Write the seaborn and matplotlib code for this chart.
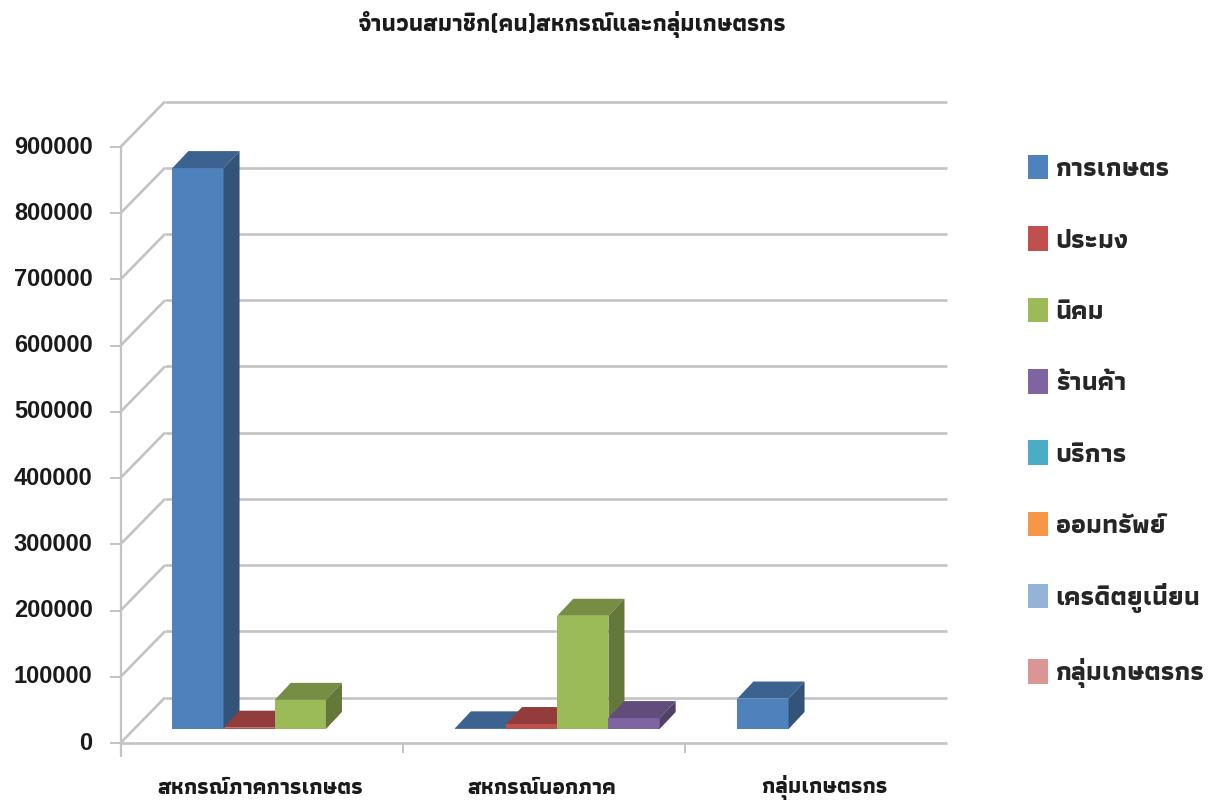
import numpy as np
import pandas as pd
import matplotlib
matplotlib.use("Agg")
import matplotlib.pyplot as plt
import seaborn as sns
from matplotlib import font_manager as fm
from matplotlib.patches import Polygon, Patch
from matplotlib.lines import Line2D
from matplotlib.transforms import IdentityTransform
from matplotlib.colors import to_rgb

# ---------------- data ----------------
title = "จำนวนสมาชิก(คน)สหกรณ์และกลุ่มเกษตรกร"
categories = ["สหกรณ์ภาคการเกษตร", "สหกรณ์นอกภาค", "กลุ่มเกษตรกร"]
series_names = ["การเกษตร", "ประมง", "นิคม", "ร้านค้า", "บริการ",
                "ออมทรัพย์", "เครดิตยูเนี่ยน", "กลุ่มเกษตรกร"]
s_kaset = [847000, 1000, 46000]
s_pramong = [2000, 7500, 0]
s_nikom = [44000, 171000, 0]
s_rankha = [0, 16500, 0]
s_borikan = [0, 0, 0]
s_omsap = [0, 0, 0]
s_credit = [0, 0, 0]
s_klum = [0, 0, 0]
series_values = [s_kaset, s_pramong, s_nikom, s_rankha,
                 s_borikan, s_omsap, s_credit, s_klum]
y_ticks = [0, 100000, 200000, 300000, 400000, 500000, 600000, 700000, 800000, 900000]
colors = ["#4F81BD", "#C0504D", "#9BBB59", "#8064A2",
          "#4BACC6", "#F79646", "#95B3D7", "#D99694"]

rows = []
for name, vals in zip(series_names, series_values):
    for cat, v in zip(categories, vals):
        rows.append({"category": cat, "series": name, "value": v})
df = pd.DataFrame(rows)
plotted = [n for n, v in zip(series_names, series_values) if any(x > 0 for x in v)]
df_plot = df[df["series"].isin(plotted)]
palette = dict(zip(series_names, colors))

# ---------------- fonts ----------------
sns.set_theme(style="white")

installed = {}
for fe in fm.fontManager.ttflist:
    installed.setdefault(fe.name, set()).add(fe.weight if isinstance(fe.weight, int) else 400)

thai_font = "DejaVu Sans"
for cand in ["Athiti", "Kanit", "Bai Jamjuree", "IBM Plex Sans Thai", "Anuphan"]:
    if cand in installed and max(installed[cand]) >= 600:
        thai_font = cand
        break
plt.rcParams["font.family"] = [thai_font, "DejaVu Sans"]
num_family = ["Liberation Sans", "DejaVu Sans"]

# ---------------- figure ----------------
W, H = 1215, 807
fig = plt.figure(figsize=(W / 100, H / 100), dpi=100)
fig.patch.set_facecolor("white")
ax = fig.add_axes([133.5 / W, (H - 729) / H, 847.5 / W, 596 / H])

sns.barplot(data=df_plot, x="category", y="value", hue="series",
            order=categories, hue_order=plotted, palette=palette,
            width=0.725, gap=0, dodge=True, saturation=1, legend=False,
            errorbar=None, linewidth=0, ax=ax)
ax.set_xlim(-0.5, 2.5)
ax.set_ylim(0, 900000)
ax.axis("off")

FRONT = (-13.0, -14.0)
BACK = (31.5, 31.5)
BAR_D = (16.0, 17.0)
RIGHT_X = 947.0
GRID_C = "#c3c3c3"
ID = IdentityTransform()


def P(x, v, off=(0.0, 0.0)):
    px, py = ax.transData.transform((x, v))
    return px + off[0], py + off[1]


def line(p0, p1, color=GRID_C, lw=1.9, z=1):
    ax.add_line(Line2D([p0[0], p1[0]], [p0[1], p1[1]], color=color, lw=lw,
                       transform=ID, clip_on=False, zorder=z,
                       solid_capstyle="butt"))


# walls and gridlines
for v in y_ticks:
    f = P(-0.5, v, FRONT)
    b = P(-0.5, v, BACK)
    line(f, b)
    line(b, (RIGHT_X, b[1]))
    line((f[0] - 11, f[1]), f, lw=1.4)
    ax.text(f[0] - 28, f[1], f"{v:d}", transform=ID, ha="right", va="center",
            fontsize=17, fontweight="bold", family=num_family, color="#1a1a1a")

f0 = P(-0.5, 0, FRONT)
line(f0, (RIGHT_X, f0[1]))
ftop = P(-0.5, y_ticks[-1], FRONT)
line((f0[0], f0[1] - 14), ftop, lw=1.6)
for k in range(len(categories) - 1):
    c = P(k + 0.5, 0, FRONT)
    line(c, (c[0], c[1] - 10), lw=1.4)
for k, cat in enumerate(categories):
    c = P(k, 0, FRONT)
    ax.text(c[0] - 2, c[1] - 45, cat, transform=ID, ha="center", va="center",
            fontsize=16, fontweight="bold", color="#1a1a1a")


def shade(c, k):
    r, g, b = to_rgb(c)
    return (r * k, g * k, b * k)


# 3-D faces for the bars
bars = sorted([p for p in ax.patches if p.get_height() > 0], key=lambda p: p.get_x())
for p in ax.patches:
    if p.get_height() <= 0:
        p.set_visible(False)
for i, p in enumerate(bars):
    x0, w, h = p.get_x(), p.get_width(), p.get_height()
    fc = p.get_facecolor()
    z = 5 + 3 * i
    p.set_zorder(z)
    br = P(x0 + w, 0)
    tl = P(x0, h)
    tr = P(x0 + w, h)
    dx, dy = BAR_D
    top = [tl, tr, (tr[0] + dx, tr[1] + dy), (tl[0] + dx, tl[1] + dy)]
    side = [br, tr, (tr[0] + dx, tr[1] + dy), (br[0] + dx, br[1] + dy)]
    ax.add_patch(Polygon(top, closed=True, transform=ID, facecolor=shade(fc, 0.76),
                         edgecolor="none", clip_on=False, zorder=z + 1))
    ax.add_patch(Polygon(side, closed=True, transform=ID, facecolor=shade(fc, 0.64),
                         edgecolor="none", clip_on=False, zorder=z + 2))

# title
fig.text(572 / W, 1 - 25 / H, title, ha="center", va="center",
         fontsize=17, fontweight="bold", color="#1a1a1a")

# legend
handles = [Patch(facecolor=palette[n], edgecolor="none") for n in series_names]
fig.legend(handles, series_names, loc="upper left",
           bbox_to_anchor=(1028 / W, 1 - 155 / H), frameon=False,
           handlelength=0.75, handleheight=1.05, handletextpad=0.3,
           labelspacing=1.71, borderaxespad=0, borderpad=0,
           prop={"weight": "bold", "size": 19})

fig.savefig("out.png", dpi=100, facecolor="white")
